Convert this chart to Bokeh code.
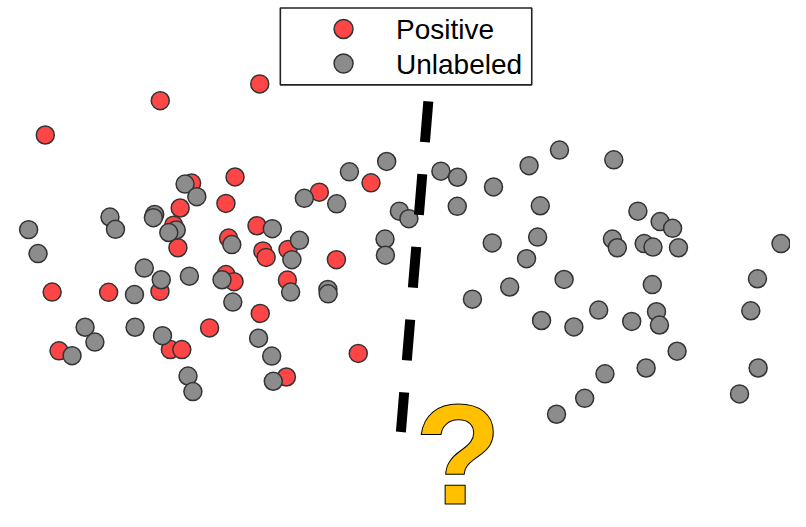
from bokeh.plotting import figure
from bokeh.models import Range1d, ColumnDataSource
from bokeh.core.properties import value
from bokeh.embed import file_html
from bokeh.resources import INLINE

# ---- data (y grows downward) ----
series_names = ["Positive", "Unlabeled"]

positive_x = [45.7, 163, 264.5, 195, 239.3, 230, 183.3, 176.7, 261.7, 232.7,
              181, 267.7, 271, 293.3, 230, 238.3, 162.7, 292.7, 52.7, 110.3,
              265, 213.3, 59.7, 173.3, 185, 325.3, 378, 342.7, 291.7, 365]
positive_y = [138.7, 103.3, 86, 188.3, 182, 209.3, 214, 231.7, 232.3, 245,
              255, 258.3, 265, 256.7, 282.7, 290, 300, 288.3, 300.7, 301,
              322.7, 337.7, 361.3, 360, 360, 197.7, 188, 267.3, 388.3, 364]

unlabeled_x = [28.7, 38.3, 111.7, 117.3, 157.3, 156, 188.3, 200.3, 179.3, 171.7,
               236, 277.3, 146.7, 192.7, 226, 164, 136.7, 237, 305, 297.3,
               296, 86.3, 137.3, 165.3, 96.3, 73, 191.3, 196.3, 263.3, 276.7,
               278.3, 334, 334.3, 394, 356, 310, 343, 407, 416.7, 392.3,
               392.7, 449.3, 466.3, 503, 466, 501.7, 536.7, 519.5, 481.5, 570.3,
               539.3, 625.7, 550.7, 650.3, 673, 685.7, 548, 624.3, 629.3, 656.7,
               665.7, 691.7, 796.3, 575, 665, 772.3, 610.3, 552, 669.3, 672.3,
               644, 585, 765.5, 690.3, 658.7, 616.7, 773, 754, 596, 567.3]
unlabeled_y = [236.3, 261, 223.3, 236, 220.7, 224, 189.3, 202.3, 236.7, 239.3,
               251.7, 235.3, 276, 284.3, 288, 288, 303.3, 311, 247.3, 267.3,
               300.7, 337, 337, 345.7, 352.3, 366.3, 387.3, 403.3, 348.3, 366.7,
               392.7, 298, 302.5, 166, 176.7, 204, 209.7, 217.3, 225, 246,
               262.7, 176, 182.3, 192.3, 212.3, 250, 266.3, 295.5, 308, 154.3,
               170.3, 164.3, 211.7, 217.3, 228, 235, 244, 246, 255, 250.7,
               254.3, 255, 250.7, 287.7, 293, 287, 319.3, 330, 321, 334.7,
               331, 336.7, 320, 361.7, 379, 385, 379, 405.7, 410.3, 426.7]

# separating boundary (dashed) and its unknown label
boundary_x = [436.5, 408.5]
boundary_y = [104, 445]
question_text = ["?"]

# ---- styling ----
RED = "#FF4646"
GRAY = "#8C8C8C"
EDGE = "#333333"
GOLD = "#FFC000"

p = figure(width=790, height=511, output_backend="svg", toolbar_location=None,
           x_range=Range1d(0, 806), y_range=Range1d(527, 0),
           min_border=0, min_border_left=0, min_border_right=0,
           min_border_top=0, min_border_bottom=0)
p.axis.visible = False
p.grid.visible = False
p.outline_line_color = None
p.background_fill_color = "white"
p.border_fill_color = "white"

# points
p.scatter(positive_x, positive_y, size=18, fill_color=RED, line_color=EDGE,
          line_width=1.5)
p.scatter(unlabeled_x, unlabeled_y, size=18, fill_color=GRAY, line_color=EDGE,
          line_width=1.5)

# dashed boundary
p.line(boundary_x, boundary_y, line_color="black", line_width=10,
       line_dash="41 32", line_cap="butt")

# question mark
qx = [(boundary_x[1] + 58.5)]
qy = [boundary_y[1] + 23]
p.text(x=qx, y=qy, text=question_text, text_font=value("Liberation Sans"),
       text_font_style="bold", text_font_size="142px", text_align="center",
       text_baseline="middle", text_color=GOLD,
       text_outline_color="black")

# legend (drawn as a framed box with sample markers and labels)
lx0, lx1, ly0, ly1 = 285.5, 542, 7.8, 87
p.quad(left=[lx0], right=[lx1], top=[ly0], bottom=[ly1], fill_color="white",
       line_color="#222222", line_width=1.6)
leg_src = ColumnDataSource(dict(mx=[350, 350], my=[29.3, 65],
                                tx=[403.5, 403.5], ty=[30, 65.5],
                                label=series_names, color=[RED, GRAY]))
p.scatter("mx", "my", source=leg_src, size=19, fill_color="color",
          line_color=EDGE, line_width=1.5)
p.text("tx", "ty", text="label", source=leg_src,
       text_font=value("Liberation Sans"), text_font_size="28px",
       text_baseline="middle", text_align="left", text_color="black")

open("out.html", "w").write(file_html(p, INLINE))
